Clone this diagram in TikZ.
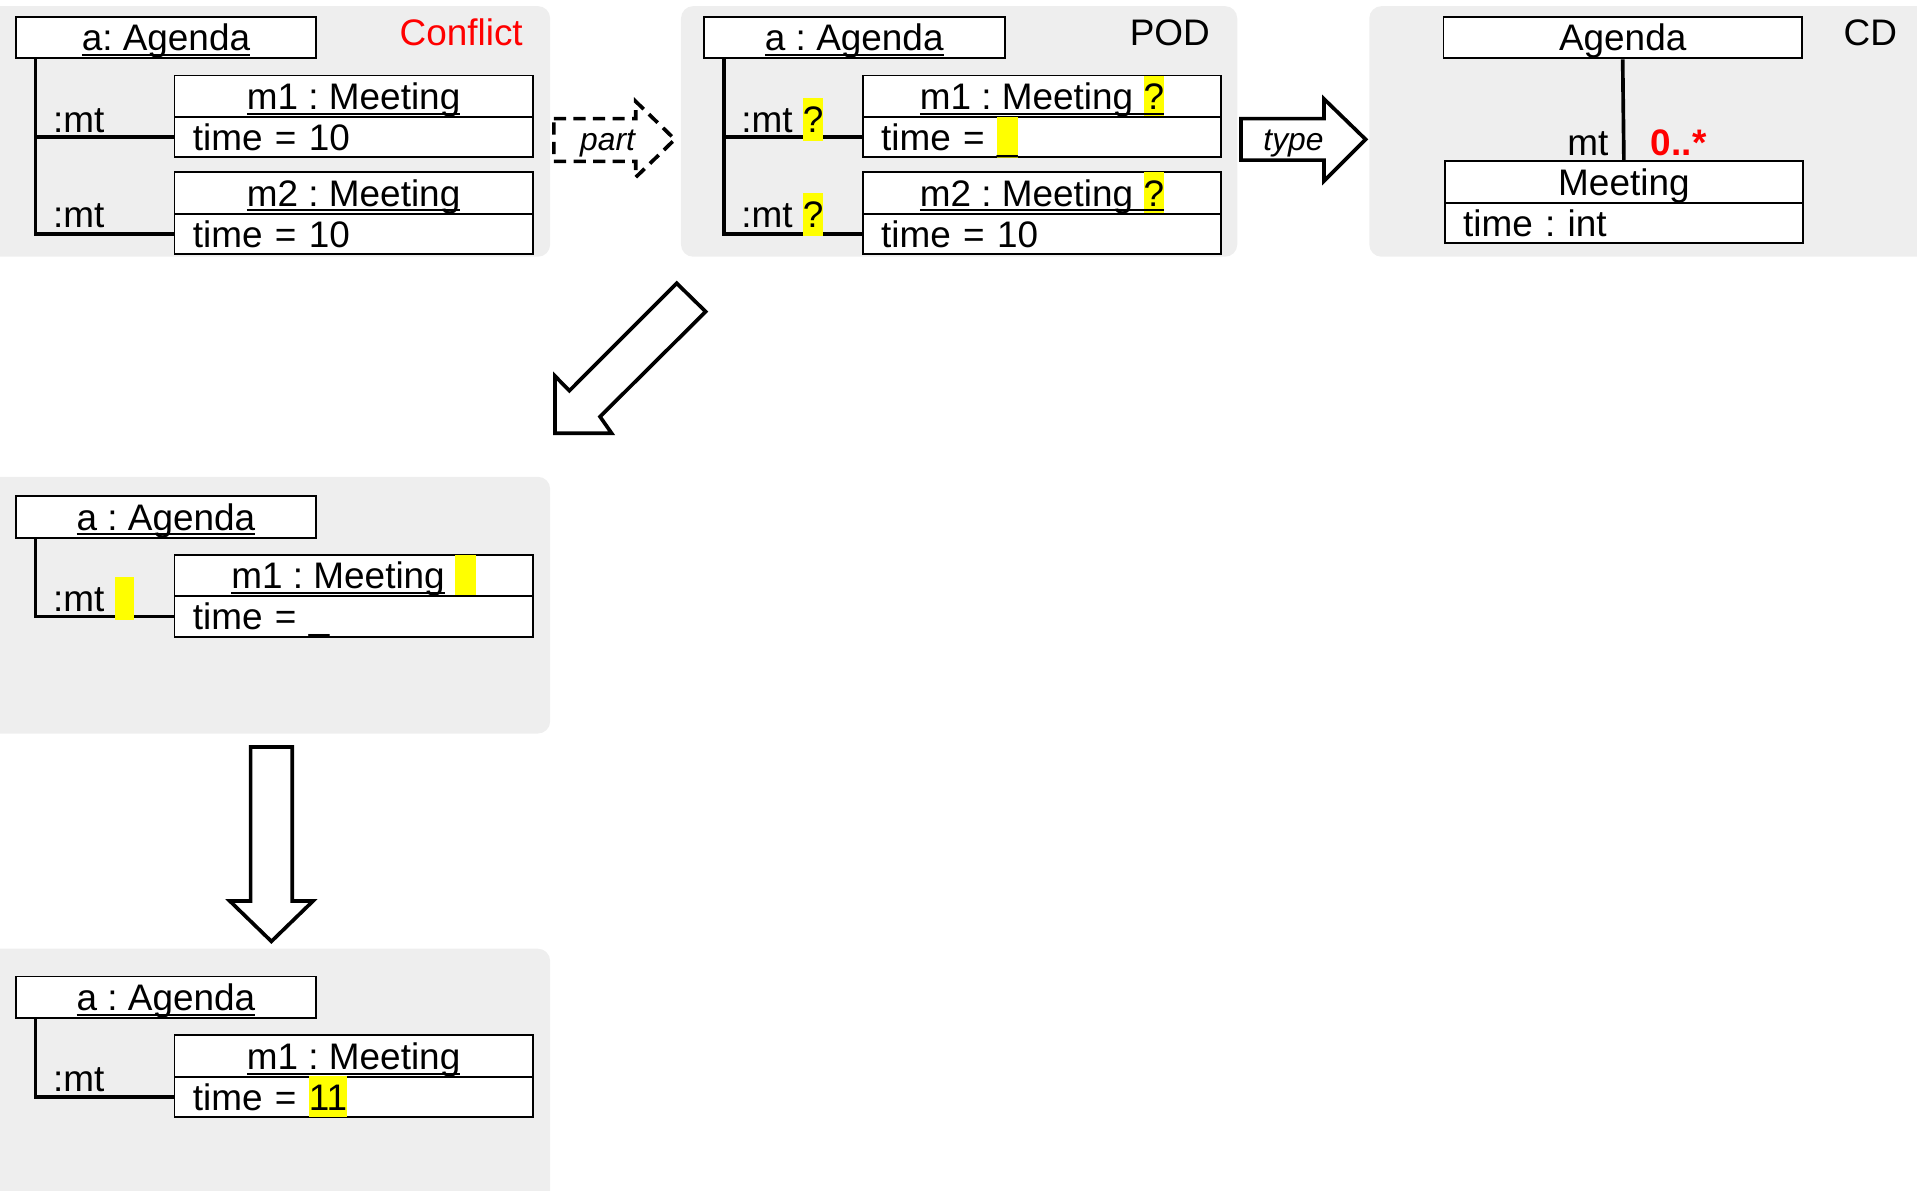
\documentclass[tikz,border=0pt]{standalone}
\usepackage{fontspec}
\setmainfont{Liberation Sans}
\usetikzlibrary{calc}
\definecolor{panelgray}{RGB}{238,238,238}
\definecolor{hlyellow}{RGB}{255,255,0}
\frenchspacing
\newcommand\umlfont{\fontsize{15.1pt}{17pt}\selectfont}
\newcommand\arrfont{\fontsize{13pt}{15pt}\selectfont\itshape}
\newcommand\myul[1]{\setbox0=\hbox{#1}\copy0\kern-\wd0\rule[-2.2pt]{\wd0}{0.8pt}}
\newcommand\hl[1]{{\setlength\fboxsep{0pt}\colorbox{hlyellow}{\rule[-2.8pt]{0pt}{16.6pt}#1}}}
\newcommand\hlb[1]{{\setlength\fboxsep{0pt}\colorbox{hlyellow}{\rule[-3.5pt]{0pt}{17.5pt}#1}}}
\begin{document}
\begin{tikzpicture}[x=0.5pt,y=-0.5pt,
  panel/.style={fill=panelgray, rounded corners=5pt},
  uml/.style={draw, fill=white, line width=0.75pt, inner sep=0pt, anchor=north west,
              text height=10.8pt, text depth=0pt, font=\umlfont},
  agendabox/.style={uml, minimum width=123pt, minimum height=17pt},
  headbox/.style={uml, minimum width=146.5pt, minimum height=17pt},
  attrbox/.style={uml, minimum width=146.5pt, minimum height=16.5pt,
                  inner xsep=7.5pt, text width=131.5pt, align=left},
  link/.style={line width=1.5pt},
  lbl/.style={inner sep=0pt, font=\umlfont, anchor=base west},
  ttl/.style={inner sep=0pt, font=\umlfont, anchor=base east},
  arrlbl/.style={inner sep=0pt, font=\arrfont, anchor=base},
  bigarrow/.style={draw, fill=white, line width=1.5pt, line join=miter}]
\useasboundingbox (0,0) rectangle (1568,974);

% panels
\fill[panel] (-12,5) rectangle (450,210);
\fill[panel] (557,5) rectangle (1012,210);
\fill[panel] (1120,5) rectangle (1590,210);
\fill[panel] (-12,390) rectangle (450,600);
\fill[panel] (-12,776) rectangle (450,990);

% ---- Panel 1: Conflict
\node[agendabox] (p1a) at (12,13) {\myul{a: Agenda}};
\node[headbox] (p1m1h) at (142,61) {\myul{m1 : Meeting}};
\node[attrbox] (p1m1a) at (142,95) {time = 10};
\node[headbox] (p1m2h) at (142,140) {\myul{m2 : Meeting}};
\node[attrbox] (p1m2a) at (142,174) {time = 10};
\draw[link] ($(p1a.south west)+(17,0)$) |- (p1m1a.west);
\draw[link] ($(p1a.south west)+(17,0)$) |- (p1m2a.west);
\node[lbl] (p1l1) at (43,108) {:mt};
\node[lbl] (p1l2) at (43,186) {:mt};
\node[ttl, text=red] (p1t) at (428,37) {Conflict};

% ---- Panel 2: POD
\node[agendabox] (p2a) at (575,13) {\myul{a : Agenda}};
\node[headbox] (p2m1h) at (705,61) {\myul{m1 : Meeting \hl{?}}};
\node[attrbox] (p2m1a) at (705,95) {time = \hl{\_}};
\node[headbox] (p2m2h) at (705,140) {\myul{m2 : Meeting \hl{?}}};
\node[attrbox] (p2m2a) at (705,174) {time = 10};
\draw[link] ($(p2a.south west)+(17,0)$) |- (p2m1a.west);
\draw[link] ($(p2a.south west)+(17,0)$) |- (p2m2a.west);
\node[lbl] (p2l1) at (606,108) {:mt \hlb{?}};
\node[lbl] (p2l2) at (606,186) {:mt \hlb{?}};
\node[ttl] (p2t) at (990,37) {POD};

% ---- Panel 3: CD
\node[headbox] (cda) at (1180,13) {Agenda};
\node[headbox] (cdmh) at (1181,131) {Meeting};
\node[attrbox] (cdma) at (1181,165) {time : int};
\draw[link] (cda.south) -- (cdmh.north);
\node[ttl] (cdrole) at (1316,127) {mt};
\node[lbl, text=red, font=\umlfont\bfseries] (cdmult) at (1350,127) {0..*};
\node[ttl] (cdt) at (1552,37) {CD};

% ---- arrows
\draw[bigarrow, dash pattern=on 5pt off 3pt] (453,97) -- (520,97) -- (520,83) -- (552,114)
  -- (520,145) -- (520,132) -- (453,132) -- cycle;
\node[arrlbl] (partl) at (497,123) {part};
\draw[bigarrow] (1015,97) -- (1083,97) -- (1083,81) -- (1117,114)
  -- (1083,148) -- (1083,131) -- (1015,131) -- cycle;
\node[arrlbl] (typel) at (1058,123) {type};
\draw[bigarrow] (553.5,231.7) -- (577.2,254.9) -- (490.8,340.8) -- (500.3,354.4)
  -- (453.9,354.4) -- (453.9,307.5) -- (465.7,319.6) -- cycle;
\draw[bigarrow] (205,611) -- (239,611) -- (239,737) -- (256,737) -- (222,770)
  -- (188,737) -- (205,737) -- cycle;

% ---- Panel 4
\node[agendabox] (p4a) at (12,405) {\myul{a : Agenda}};
\node[headbox] (p4m1h) at (142,453) {\myul{m1 : Meeting}\ \hl{\hspace{8.5pt}}};
\node[attrbox] (p4m1a) at (142,487) {time = \_};
\draw[link] ($(p4a.south west)+(17,0)$) |- (p4m1a.west);
\node[lbl] (p4l1) at (43,500) {:mt \hlb{\hspace{8pt}}};

% ---- Panel 5
\node[agendabox] (p5a) at (12,798) {\myul{a : Agenda}};
\node[headbox] (p5m1h) at (142,846) {\myul{m1 : Meeting}};
\node[attrbox] (p5m1a) at (142,880) {time = \hl{11}};
\draw[link] ($(p5a.south west)+(17,0)$) |- (p5m1a.west);
\node[lbl] (p5l1) at (43,893) {:mt};
\end{tikzpicture}
\end{document}
